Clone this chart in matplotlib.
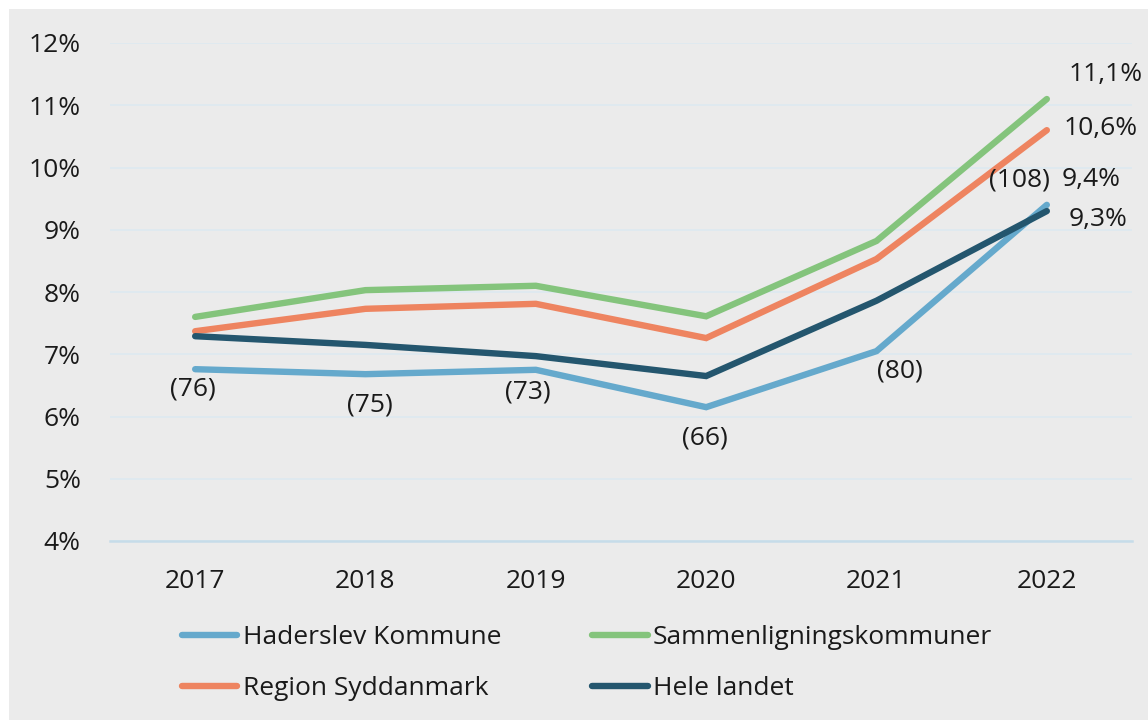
import matplotlib.pyplot as plt
import matplotlib.patches as patches
import numpy as np

plt.rcParams['font.family'] = ['Open Sans', 'DejaVu Sans']

years = ["2017", "2018", "2019", "2020", "2021", "2022"]

haderslev = [6.76, 6.68, 6.75, 6.15, 7.05, 9.4]
sammenligning = [7.60, 8.03, 8.10, 7.61, 8.82, 11.1]
region = [7.37, 7.73, 7.81, 7.26, 8.53, 10.6]
hele_landet = [7.29, 7.15, 6.97, 6.65, 7.86, 9.3]

counts = ["(76)", "(75)", "(73)", "(66)", "(80)", "(108)"]
end_labels = ["11,1%", "10,6%", "9,4%", "9,3%"]

series_names = ["Haderslev Kommune", "Sammenligningskommuner", "Region Syddanmark", "Hele landet"]
colors = ["#65a9cc", "#84c47c", "#ee8460", "#24566e"]

FS = 19

fig = plt.figure(figsize=(11.48, 7.2), dpi=100)
fig.patch.set_facecolor("white")
# grey panel behind everything (white strip on top and left)
fig.add_artist(patches.Rectangle((9 / 1148, 0), 1, 1 - 9 / 720, transform=fig.transFigure,
                                 facecolor="#ebebeb", edgecolor="none", zorder=-10))

ax = fig.add_axes([110 / 1148, 1 - 541 / 720, (1132 - 110) / 1148, (541 - 43) / 720])
ax.set_facecolor("none")

x = np.arange(len(years))
lw = 4.6
# drawing order: blue below, dark on top
ax.plot(x, haderslev, color=colors[0], lw=lw, solid_capstyle="round", solid_joinstyle="miter", label=series_names[0], zorder=3)
ax.plot(x, sammenligning, color=colors[1], lw=lw, solid_capstyle="round", solid_joinstyle="miter", label=series_names[1], zorder=3)
ax.plot(x, region, color=colors[2], lw=lw, solid_capstyle="round", solid_joinstyle="miter", label=series_names[2], zorder=3)
ax.plot(x, hele_landet, color=colors[3], lw=lw, solid_capstyle="round", solid_joinstyle="miter", label=series_names[3], zorder=4)

ax.set_xlim(-0.5, 5.5)
ax.set_ylim(4, 12)
ax.set_yticks(np.arange(4, 13, 1))
ax.set_yticklabels([f"{v}%" for v in range(4, 13)])
ax.set_xticks(x)
ax.set_xticklabels(years)

ax.grid(axis="y", color="#dde9f1", lw=1.2)
ax.set_axisbelow(True)
for s in ["top", "right", "left"]:
    ax.spines[s].set_visible(False)
ax.spines["bottom"].set_color("#c6dce9")
ax.spines["bottom"].set_linewidth(1.8)
ax.tick_params(axis="both", length=0, labelsize=FS, colors="#1a1a1a")
ax.tick_params(axis="y", pad=21)
ax.tick_params(axis="x", pad=20)

# count labels for Haderslev Kommune (offsets in points)
offsets = [(-2, -14), (3, -22), (-6, -16), (-1, -22), (17, -14), (-20, 18)]
for i, (lab, off) in enumerate(zip(counts, offsets)):
    ax.annotate(lab, (x[i], haderslev[i]), xytext=off, textcoords="offset points",
                ha="center", va="center", fontsize=FS, color="#1a1a1a")

# end labels at 2022
end_vals = [sammenligning[-1], region[-1], haderslev[-1], hele_landet[-1]]
end_offsets = [(42, 18), (39, 1), (32, 18), (37, -6)]
for lab, v, off in zip(end_labels, end_vals, end_offsets):
    ax.annotate(lab, (x[-1], v), xytext=off, textcoords="offset points",
                ha="center", va="center", fontsize=FS, color="#1a1a1a")

handles, labels = ax.get_legend_handles_labels()
order = [0, 2, 1, 3]
leg = fig.legend([handles[i] for i in order], [labels[i] for i in order],
                 loc="upper left", bbox_to_anchor=(182 / 1148, 1 - 625 / 720), ncol=2,
                 frameon=False, fontsize=FS, handlelength=2.1, handletextpad=0.2,
                 columnspacing=3.45, labelspacing=1.0, borderpad=0, borderaxespad=0)
for t in leg.get_texts():
    t.set_color("#1a1a1a")

fig.savefig("out.png", dpi=100, facecolor=fig.get_facecolor())
